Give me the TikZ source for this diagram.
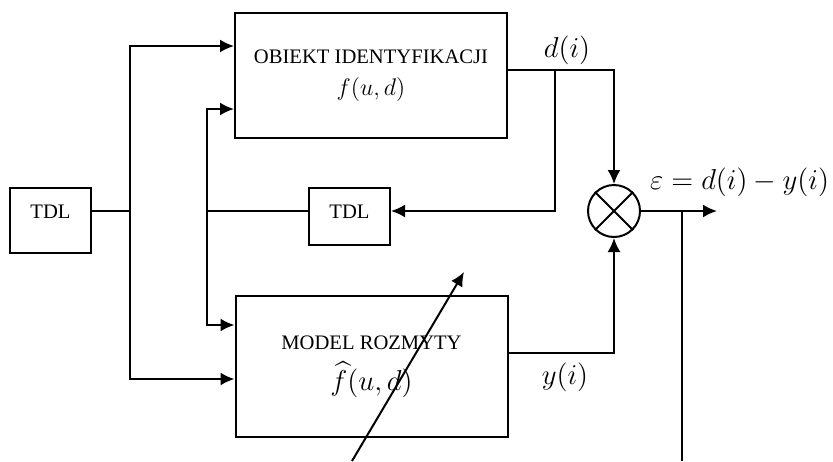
\documentclass[tikz,border=0pt]{standalone}
\usepackage{amsmath}
\usepackage{fontspec}
\setmainfont{Liberation Serif}
\usetikzlibrary{arrows.meta}

\begin{document}
\begin{tikzpicture}[x=0.5pt, y=-0.5pt, line width=1pt, >={Latex[length=7pt,width=6.5pt]},
	blok/.style={draw, rectangle, align=center, minimum width=136pt, font=\fontsize{10.3}{12}\selectfont},
	tdl/.style={draw, rectangle, minimum width=40.5pt, inner sep=3pt, text height=12pt, font=\fontsize{10.3}{12}\selectfont},
	etykieta/.style={font=\fontsize{14}{16}\selectfont}]
	\useasboundingbox (0,0) rectangle (833,461);
	\node[tdl, text depth=14.5pt] (tdlin) at (50.5,220.5) {TDL};
	\node[tdl, text depth=10.5pt] (tdlfb) at (349.5,216.5) {TDL};
	\node[blok, minimum height=62.5pt] (obj) at (371,75.5) {OBIEKT IDENTYFIKACJI\\[4pt]{\fontsize{12}{14}\selectfont$f(u,d)$}};
	\node[blok, minimum height=70.5pt] (model) at (371.5,366.5) {MODEL ROZMYTY\\[5pt]{\fontsize{15}{17}\selectfont$\widehat{f}(u,d)$}};
	\node[draw, circle, minimum size=26pt, inner sep=0pt] (sum) at (614,211) {};
	\draw (sum.45) -- (sum.225) (sum.135) -- (sum.315);
	\coordinate (j1) at (130,211);
	\coordinate (j2) at (207,211);
	\coordinate (dj) at (555,70);
	\coordinate (ej) at (682,211);
	\coordinate (eout) at (717,211);
	\coordinate (ebot) at (682,461);
	\coordinate (adjdol) at (352,461);
	\coordinate (adjgora) at (464,272);
	\draw[->] (j1) |- ([yshift=14.75pt]obj.west);
	\draw[->] (tdlin.east |- j1) -- (j1) |- ([yshift=-6.25pt]model.west);
	\draw[->] (tdlfb.west |- j2) -- (j2) |- ([yshift=-16.75pt]obj.west);
	\draw[->] (j2) |- ([yshift=20.75pt]model.west);
	\draw[->] ([yshift=2.75pt]obj.east) -| (sum.north);
	\draw[->] (dj) |- (tdlfb.east |- j2);
	\draw[->] ([yshift=6.75pt]model.east) -| (sum.south);
	\draw[->] (sum.east) -- (eout);
	\draw (ej) -- (ebot);
	\draw[->] (adjdol) -- (adjgora);
	\node[etykieta] (dlab) at (567,50) {$d(i)$};
	\node[etykieta] (ylab) at (565,377) {$y(i)$};
	\node[etykieta, font=\fontsize{13.5}{16}\selectfont, anchor=east, inner sep=1pt] (elab) at (832,182) {$\varepsilon = d(i) - y(i)$};
\end{tikzpicture}
\end{document}
